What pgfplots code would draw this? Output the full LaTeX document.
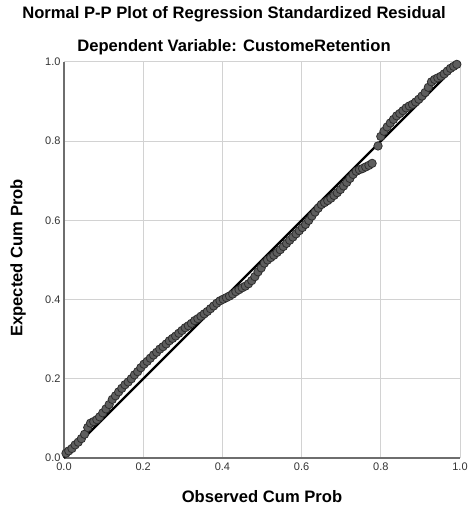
\documentclass[border=0pt]{standalone}
\usepackage{fontspec}
\setmainfont{Liberation Sans}
\usepackage{pgfplots}
\pgfplotsset{compat=1.18}
\definecolor{gridgray}{HTML}{D2D2D2}
\definecolor{axisgray}{HTML}{6E6E6E}
\definecolor{ptfill}{HTML}{5E5E5E}
\definecolor{ptedge}{HTML}{2E2E2E}
\definecolor{ticktext}{HTML}{333333}

\begin{document}
\begin{tikzpicture}[x=1pt,y=1pt]
\useasboundingbox (-64,-52) rectangle (404,458);
\begin{axis}[
    at={(0,0)}, anchor=south west,
    scale only axis,
    width=396pt, height=396pt,
    xmin=0, xmax=1, ymin=0, ymax=1,
    xtick={0,0.2,0.4,0.6,0.8,1},
    ytick={0,0.2,0.4,0.6,0.8,1},
    /pgf/number format/.cd, fixed, fixed zerofill, precision=1, assume math mode=true,
    /pgfplots/.cd,
    grid=major,
    grid style={gridgray, line width=1pt},
    axis x line*=bottom,
    axis y line*=left,
    axis line style={axisgray, line width=1.1pt, -},
    major tick length=0pt,
    tick label style={font=\fontsize{11}{13}\selectfont, text=ticktext},
    xticklabel style={yshift=-1pt},
    clip=false,
]
% observed cum prob vs expected cum prob
\addplot[only marks, mark=*, mark size=4.2pt,
    mark options={fill=ptfill, draw=ptedge, line width=0.8pt}] coordinates {
(0.005,0.012) (0.012,0.018) (0.020,0.024) (0.028,0.033) (0.036,0.040)
(0.044,0.049) (0.052,0.060) (0.060,0.077) (0.067,0.088) (0.075,0.092)
(0.083,0.097) (0.090,0.104) (0.098,0.114) (0.106,0.124) (0.114,0.135)
(0.122,0.148) (0.130,0.157) (0.138,0.167) (0.146,0.176) (0.154,0.185)
(0.162,0.192) (0.170,0.200) (0.178,0.210) (0.186,0.218) (0.194,0.228)
(0.202,0.237) (0.210,0.244) (0.218,0.252) (0.226,0.260) (0.234,0.267)
(0.242,0.275) (0.250,0.281) (0.258,0.288) (0.266,0.296) (0.274,0.302)
(0.282,0.308) (0.290,0.315) (0.298,0.322) (0.306,0.329) (0.314,0.334)
(0.322,0.340) (0.330,0.347) (0.338,0.352) (0.346,0.358) (0.354,0.364)
(0.362,0.370) (0.370,0.377) (0.378,0.384) (0.386,0.391) (0.394,0.397)
(0.402,0.401) (0.410,0.405) (0.418,0.409) (0.426,0.414) (0.434,0.420)
(0.442,0.425) (0.450,0.430) (0.458,0.434) (0.466,0.440) (0.474,0.448)
(0.482,0.458) (0.490,0.470) (0.498,0.480) (0.506,0.492) (0.514,0.500)
(0.522,0.506) (0.530,0.512) (0.538,0.519) (0.546,0.526) (0.554,0.534)
(0.562,0.542) (0.570,0.550) (0.578,0.558) (0.586,0.566) (0.594,0.574)
(0.602,0.582) (0.610,0.590) (0.618,0.600) (0.626,0.611) (0.634,0.621)
(0.642,0.631) (0.650,0.640) (0.658,0.645) (0.666,0.650) (0.674,0.656)
(0.682,0.663) (0.690,0.670) (0.698,0.678) (0.706,0.687) (0.714,0.696)
(0.722,0.706) (0.730,0.716) (0.738,0.724) (0.746,0.728) (0.754,0.731)
(0.762,0.735) (0.770,0.739) (0.778,0.744) (0.793,0.788) (0.800,0.812)
(0.808,0.825) (0.816,0.836) (0.824,0.846) (0.832,0.855) (0.840,0.864)
(0.848,0.870) (0.856,0.877) (0.864,0.884) (0.872,0.889) (0.880,0.893)
(0.888,0.899) (0.896,0.906) (0.904,0.914) (0.912,0.923) (0.920,0.936)
(0.928,0.950) (0.936,0.956) (0.944,0.960) (0.952,0.964) (0.960,0.970)
(0.968,0.977) (0.976,0.984) (0.984,0.989) (0.992,0.994)
};
% reference diagonal
\addplot[black, line width=2.4pt] coordinates {(0,0) (1,1)};
\end{axis}
\node[font=\bfseries\fontsize{16.6}{18}\selectfont] at (170,444) {Normal P-P Plot of Regression Standardized Residual};
\node[font=\bfseries\fontsize{16.6}{18}\selectfont] at (170,411) {Dependent Variable: CustomeRetention};
\node[font=\bfseries\fontsize{16.6}{18}\selectfont] at (198,-39) {Observed Cum Prob};
\node[font=\bfseries\fontsize{16.6}{18}\selectfont, rotate=90] at (-46,200) {Expected Cum Prob};
\end{tikzpicture}
\end{document}
